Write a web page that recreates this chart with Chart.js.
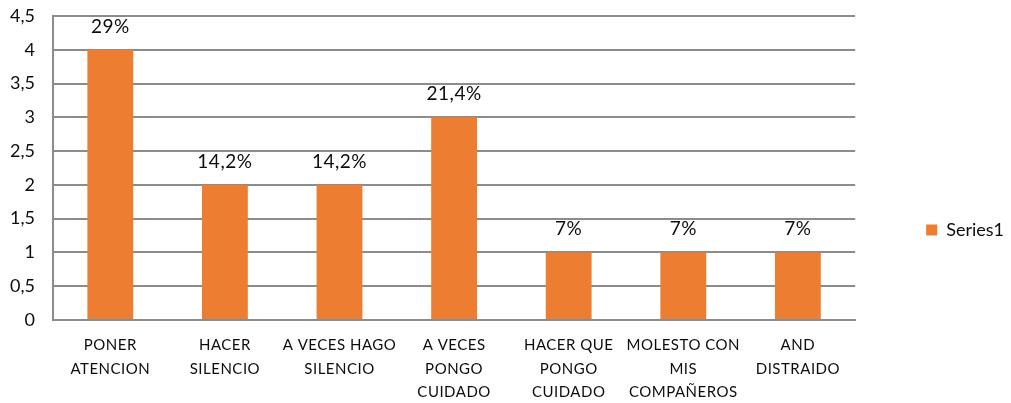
<!DOCTYPE html>
<html>
<head>
<meta charset="utf-8">
<script src="https://cdn.jsdelivr.net/npm/chart.js@4.4.1/dist/chart.umd.min.js"></script>
<style>
  html, body { margin: 0; padding: 0; background: #ffffff; }
  #wrap { width: 1011px; height: 403px; position: relative; }
</style>
</head>
<body>
<div id="wrap"><canvas id="c" width="1011" height="403"></canvas></div>
<script>
const categories = [
  ["PONER", "ATENCION"],
  ["HACER", "SILENCIO"],
  ["A VECES HAGO", "SILENCIO"],
  ["A VECES", "PONGO", "CUIDADO"],
  ["HACER QUE", "PONGO", "CUIDADO"],
  ["MOLESTO CON", "MIS", "COMPAÑEROS"],
  ["AND", "DISTRAIDO"]
];
const series1 = [4, 2, 2, 3, 1, 1, 1];
const percentLabels = ["29%", "14,2%", "14,2%", "21,4%", "7%", "7%", "7%"];
const yTickMin = 0;
const yTickMax = 4.5;
const yTickStep = 0.5;

const FONT = "Lato, 'Open Sans', 'DejaVu Sans', sans-serif";
const TEXT = '#0d0d0d';
const GRID = '#8c8c8c';
const BAR = '#ED7D31';

const dataLabelPlugin = {
  id: 'dataLabels',
  afterDatasetsDraw(chart) {
    const ctx = chart.ctx;
    const meta = chart.getDatasetMeta(0);
    ctx.save();
    ctx.font = "19px " + FONT;
    ctx.fillStyle = TEXT;
    ctx.textAlign = 'center';
    ctx.textBaseline = 'alphabetic';
    ctx.letterSpacing = '0.5px';
    meta.data.forEach((bar, i) => {
      ctx.fillText(percentLabels[i], bar.x, bar.y - 17);
    });
    ctx.restore();
  }
};

const legendShift = {
  id: 'legendShift',
  afterLayout(chart) {
    const lg = chart.legend;
    if (lg) { lg.top += 27; lg.bottom += 27; lg.left += 3; lg.right += 3; }
  }
};

const xLetterSpacing = {
  id: 'xLetterSpacing',
  afterLayout(chart) {
    const sc = chart.scales.x;
    if (sc && !sc._patched) {
      const orig = sc.drawLabels;
      sc.drawLabels = function (area) {
        const ctx = this.ctx;
        ctx.save();
        ctx.letterSpacing = '0.5px';
        orig.call(this, area);
        ctx.restore();
      };
      sc._patched = true;
    }
  }
};

new Chart(document.getElementById('c'), {
  type: 'bar',
  data: {
    labels: categories,
    datasets: [{
      label: 'Series1',
      data: series1,
      backgroundColor: BAR,
      borderWidth: 0,
      barPercentage: 0.4,
      categoryPercentage: 1.0
    }]
  },
  options: {
    responsive: false,
    animation: false,
    devicePixelRatio: 1,
    layout: { padding: { top: 3, left: 0, right: 0, bottom: 0 } },
    plugins: {
      tooltip: { enabled: false },
      legend: {
        position: 'right',
        labels: {
          boxWidth: 11,
          boxHeight: 11,
          padding: 68,
          color: TEXT,
          font: { family: FONT, size: 18 }
        }
      }
    },
    scales: {
      x: {
        grid: { display: false },
        border: { display: true, color: GRID, width: 2 },
        ticks: {
          color: TEXT,
          padding: 6,
          autoSkip: false,
          maxRotation: 0,
          font: { family: FONT, size: 15, lineHeight: 1.55 }
        },
        afterFit(scale) { scale.height = 83; }
      },
      y: {
        min: yTickMin,
        max: yTickMax,
        grid: { color: GRID, lineWidth: 2, drawTicks: false },
        border: { display: true, color: GRID, width: 2 },
        ticks: {
          stepSize: yTickStep,
          color: TEXT,
          padding: 18,
          font: { family: FONT, size: 18 },
          callback: (v) => String(v).replace('.', ',')
        },
        afterFit(scale) { scale.width = 53; scale.paddingTop = 16; scale.paddingBottom = 10; }
      }
    }
  },
  plugins: [dataLabelPlugin, legendShift, xLetterSpacing]
});
</script>
</body>
</html>
